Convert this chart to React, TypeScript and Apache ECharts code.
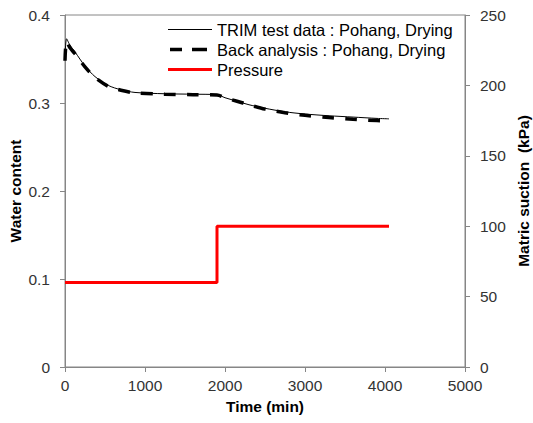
import React, { useEffect, useRef } from "react";
import * as echarts from "echarts";

const trimTime = [0, 20, 60, 125, 250, 375, 540, 700, 875, 1250, 1600, 1900, 2000, 2150, 2300, 2500, 2750, 3000, 3300, 3600, 3900, 4050];
const trimWater = [0.350, 0.373, 0.366, 0.358, 0.342, 0.330, 0.320, 0.315, 0.312, 0.3105, 0.3100, 0.3095, 0.306, 0.302, 0.298, 0.294, 0.290, 0.2875, 0.2855, 0.2840, 0.2825, 0.2820];

const backTime = [0, 20, 60, 125, 250, 375, 540, 700, 875, 1250, 1600, 1900, 2000, 2150, 2300, 2500, 2750, 3000, 3300, 3600, 3900, 4050];
const backWater = [0.348, 0.370, 0.363, 0.356, 0.341, 0.329, 0.319, 0.3145, 0.3115, 0.310, 0.3095, 0.309, 0.306, 0.302, 0.298, 0.293, 0.289, 0.286, 0.2835, 0.2815, 0.280, 0.2795];

const pressureTime = [0, 1900, 1900, 4050];
const pressureKPa = [60, 60, 100, 100];

const seriesNames = [
  "TRIM test data : Pohang, Drying",
  "Back analysis : Pohang, Drying",
  "Pressure",
];

const zip = (a: number[], b: number[]) => a.map((v, i) => [v, b[i]]);

export default function App() {
  const ref = useRef<HTMLDivElement>(null);
  useEffect(() => {
    if (!ref.current) return;
    const chart = echarts.init(ref.current, undefined, { renderer: "svg" });
    const font = "'Liberation Sans', Arial, sans-serif";
    const axisLine = { show: true, lineStyle: { color: "#868686", width: 1 } };
    const axisTick = { show: true, inside: false, length: 5, lineStyle: { color: "#868686" } };
    const axisLabel = { color: "#333", fontSize: 15.5, fontFamily: font };
    const nameStyle = { color: "#000", fontSize: 15.5, fontWeight: "bold" as const, fontFamily: font };
    chart.setOption({
      animation: false,
      backgroundColor: "#fff",
      grid: {
        left: 65, right: 68, top: 15, bottom: 56,
        containLabel: false,
        outerBoundsMode: "none",
        show: true, borderColor: "#868686", borderWidth: 1,
      },
      legend: {
        orient: "vertical",
        left: 168,
        top: 21,
        padding: 0,
        itemWidth: 44,
        itemHeight: 14,
        itemGap: 3,
        textStyle: { color: "#000", fontSize: 16.5, fontFamily: font },
        data: [
          { name: seriesNames[0], icon: "path://M0,0H44V1.2H0Z" },
          { name: seriesNames[1], icon: "path://M0,0H0.01V3.5H0Z M2,0H14V3.5H2Z M24,0H39V3.5H24Z M43.99,0H44V3.5H43.99Z" },
          { name: seriesNames[2], icon: "path://M0,0H44V3H0Z" },
        ],
      },
      xAxis: {
        type: "value",
        min: 0,
        max: 5000,
        interval: 1000,
        name: "Time (min)",
        nameLocation: "middle",
        nameGap: 31,
        nameMoveOverlap: false,
        nameTextStyle: nameStyle,
        axisLine,
        axisTick,
        axisLabel: { ...axisLabel, margin: 10, formatter: (v: number) => String(v) },
        splitLine: { show: false },
      },
      yAxis: [
        {
          type: "value",
          min: 0,
          max: 0.4,
          interval: 0.1,
          name: "Water content",
          nameLocation: "middle",
          nameRotate: 90,
          nameGap: 42,
          nameMoveOverlap: false,
          nameTextStyle: nameStyle,
          axisLine,
          axisTick,
          axisLabel: { ...axisLabel, margin: 15 },
          splitLine: { show: false },
        },
        {
          type: "value",
          position: "right",
          min: 0,
          max: 250,
          interval: 50,
          name: "Matric suction  (kPa)",
          nameLocation: "middle",
          nameRotate: 90,
          nameGap: 50,
          nameMoveOverlap: false,
          nameTextStyle: nameStyle,
          axisLine,
          axisTick,
          axisLabel: { ...axisLabel, margin: 15 },
          splitLine: { show: false },
        },
      ],
      series: [
        {
          name: seriesNames[0],
          type: "line",
          yAxisIndex: 0,
          data: zip(trimTime, trimWater),
          showSymbol: false,
          symbol: "none",
          smooth: 0.3,
          z: 4,
          lineStyle: { color: "#000", width: 1 },
          itemStyle: { color: "#000" },
        },
        {
          name: seriesNames[1],
          type: "line",
          yAxisIndex: 0,
          data: zip(backTime, backWater),
          showSymbol: false,
          symbol: "none",
          smooth: 0.3,
          z: 3,
          lineStyle: { color: "#000", width: 3.5, type: [12, 11] },
          itemStyle: { color: "#000" },
        },
        {
          name: seriesNames[2],
          type: "line",
          yAxisIndex: 1,
          data: zip(pressureTime, pressureKPa),
          showSymbol: false,
          symbol: "none",
          z: 2,
          lineStyle: { color: "#ff0000", width: 3 },
          itemStyle: { color: "#ff0000" },
        },
      ],
    });
    return () => chart.dispose();
  }, []);
  return <div ref={ref} style={{ position: "fixed", left: 0, top: 0, width: 533, height: 423 }} />;
}
